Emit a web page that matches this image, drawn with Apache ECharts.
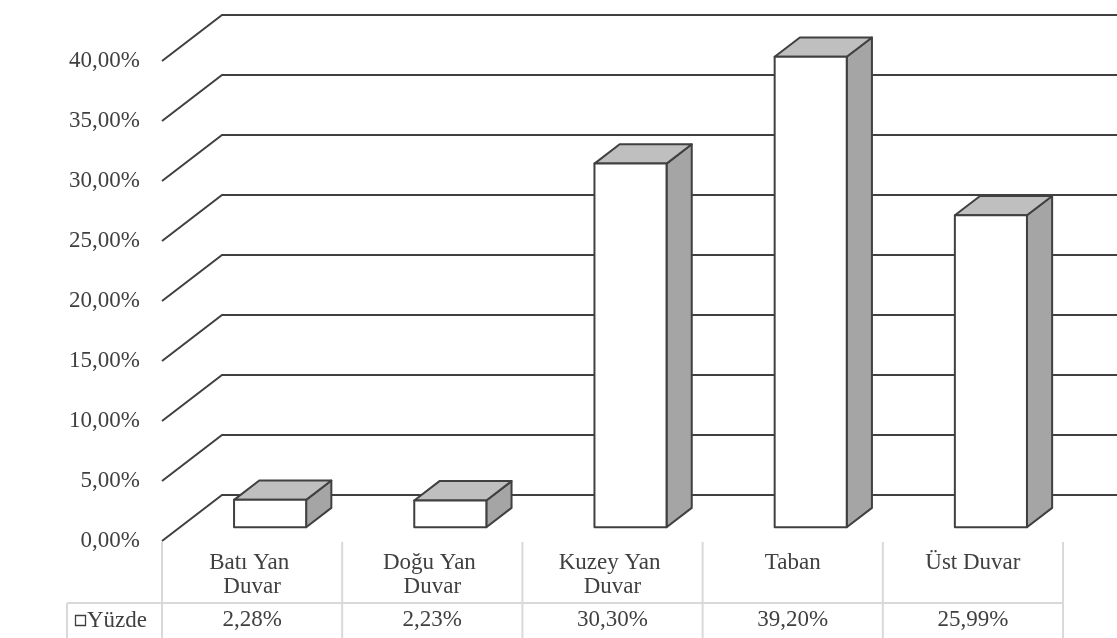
<!DOCTYPE html>
<html>
<head>
<meta charset="utf-8">
<title>Yüzde</title>
<script src="https://cdn.jsdelivr.net/npm/echarts@6/dist/echarts.min.js"></script>
<style>
  html, body { margin: 0; padding: 0; background: #ffffff; }
  #chart { width: 1117px; height: 638px; }
</style>
</head>
<body>
<div id="chart"></div>
<script>
// Chart data
const categories = ['Batı Yan Duvar', 'Doğu Yan Duvar', 'Kuzey Yan Duvar', 'Taban', 'Üst Duvar'];
const values = [2.28, 2.23, 30.30, 39.20, 25.99];
const seriesName = 'Yüzde';
const yTicks = [0, 5, 10, 15, 20, 25, 30, 35, 40];

// Layout of the front plane and the 3D depth offset
const GRID = { left: 162, top: 61, width: 901, height: 480 };
const DEPTH_X = 60;
const DEPTH_Y = 46;
const BAR_FRONT = 0.30;   // fraction of the floor depth where the bar front sits
const BAR_BACK = 0.72;    // fraction of the floor depth where the bar back sits
const BAR_WIDTH = 0.4;    // fraction of a category slot

const FONT = 'Liberation Serif, Times New Roman, serif';
const TEXT_COLOR = '#404040';
const LINE_COLOR = '#404040';
const TABLE_COLOR = '#d9d9d9';
const FONT_SIZE = 23;

const pct = v => v.toFixed(2).replace('.', ',') + '%';

const chart = echarts.init(document.getElementById('chart'), null, { renderer: 'canvas' });

// Data-table borders below the plot
const slot = GRID.width / categories.length;
const tableTop = GRID.top + GRID.height + 1;
const rowLine = tableTop + 61;
const tableBottom = 640;
const tableLeft = 67;
const tableGraphics = [];
for (let k = 0; k <= categories.length; k++) {
  const x = GRID.left + k * slot;
  tableGraphics.push({
    type: 'line', silent: true,
    shape: { x1: x, y1: tableTop, x2: x, y2: tableBottom },
    style: { stroke: TABLE_COLOR, lineWidth: 2 }
  });
}
tableGraphics.push({
  type: 'line', silent: true,
  shape: { x1: tableLeft, y1: rowLine, x2: GRID.left + GRID.width, y2: rowLine },
  style: { stroke: TABLE_COLOR, lineWidth: 2 }
});
tableGraphics.push({
  type: 'line', silent: true,
  shape: { x1: tableLeft, y1: rowLine, x2: tableLeft, y2: tableBottom },
  style: { stroke: TABLE_COLOR, lineWidth: 2 }
});
// Legend key and series name in the table's first column
const rowMid = (rowLine + 638) / 2;
tableGraphics.push({
  type: 'rect', silent: true,
  shape: { x: 75.5, y: rowMid - 5, width: 10, height: 10 },
  style: { fill: '#ffffff', stroke: LINE_COLOR, lineWidth: 1.3 }
});
tableGraphics.push({
  type: 'text', silent: true,
  x: 87, y: rowMid,
  style: { text: seriesName, fill: TEXT_COLOR, font: FONT_SIZE + 'px ' + FONT, verticalAlign: 'middle', align: 'left' }
});

const option = {
  backgroundColor: '#ffffff',
  animation: false,
  grid: { left: GRID.left, top: GRID.top, width: GRID.width, height: GRID.height },
  xAxis: [
    {
      type: 'category',
      data: categories,
      position: 'bottom',
      axisLine: { show: false },
      axisTick: { show: false },
      splitLine: { show: false },
      axisLabel: {
        interval: 0,
        margin: 10,
        width: 128,
        overflow: 'break',
        lineHeight: 24,
        verticalAlign: 'top',
        color: TEXT_COLOR,
        fontFamily: FONT,
        fontSize: FONT_SIZE
      }
    },
    {
      type: 'category',
      data: categories,
      position: 'bottom',
      axisLine: { show: false },
      axisTick: { show: false },
      splitLine: { show: false },
      axisLabel: {
        interval: 0,
        margin: 79,
        verticalAlign: 'middle',
        color: TEXT_COLOR,
        fontFamily: FONT,
        fontSize: FONT_SIZE,
        formatter: (v, i) => pct(values[i])
      }
    }
  ],
  yAxis: {
    type: 'value',
    min: 0,
    max: 40,
    interval: 5,
    axisLine: { show: false },
    axisTick: { show: false },
    splitLine: { show: false },
    axisLabel: {
      margin: 22,
      color: TEXT_COLOR,
      fontFamily: FONT,
      fontSize: FONT_SIZE,
      formatter: v => pct(v)
    }
  },
  graphic: tableGraphics,
  series: [
    {
      // Side wall and back wall gridlines
      type: 'custom',
      name: 'grid',
      silent: true,
      clip: false,
      z: 1,
      data: yTicks.map(v => [0, v]),
      renderItem: (params, api) => {
        const cs = params.coordSys;
        const y = api.coord([0, api.value(1)])[1];
        return {
          type: 'polyline',
          shape: {
            points: [
              [cs.x, y],
              [cs.x + DEPTH_X, y - DEPTH_Y],
              [cs.x + cs.width + DEPTH_X + 20, y - DEPTH_Y]
            ]
          },
          style: { stroke: LINE_COLOR, lineWidth: 2, fill: null }
        };
      }
    },
    {
      // 3D boxes
      type: 'custom',
      name: seriesName,
      clip: false,
      z: 5,
      data: values.map((v, i) => [i, v]),
      renderItem: (params, api) => {
        const base = api.coord([api.value(0), 0]);
        const top = api.coord([api.value(0), api.value(1)]);
        const bw = api.size([1, 0])[0] * BAR_WIDTH;
        const x0 = base[0] - bw / 2 + BAR_FRONT * DEPTH_X;
        const x1 = x0 + bw;
        const yb = base[1] - BAR_FRONT * DEPTH_Y;
        const yt = top[1] - BAR_FRONT * DEPTH_Y;
        const ddx = (BAR_BACK - BAR_FRONT) * DEPTH_X;
        const ddy = (BAR_BACK - BAR_FRONT) * DEPTH_Y;
        const stroke = { stroke: LINE_COLOR, lineWidth: 2, lineJoin: 'round' };
        return {
          type: 'group',
          children: [
            {
              type: 'polygon',
              shape: { points: [[x1, yt], [x1 + ddx, yt - ddy], [x1 + ddx, yb - ddy], [x1, yb]] },
              style: Object.assign({ fill: '#a5a5a5' }, stroke)
            },
            {
              type: 'polygon',
              shape: { points: [[x0, yt], [x0 + ddx, yt - ddy], [x1 + ddx, yt - ddy], [x1, yt]] },
              style: Object.assign({ fill: '#bfbfbf' }, stroke)
            },
            {
              type: 'rect',
              shape: { x: x0, y: yt, width: bw, height: yb - yt },
              style: Object.assign({ fill: '#ffffff' }, stroke)
            }
          ]
        };
      }
    }
  ]
};

chart.setOption(option);
</script>
</body>
</html>
